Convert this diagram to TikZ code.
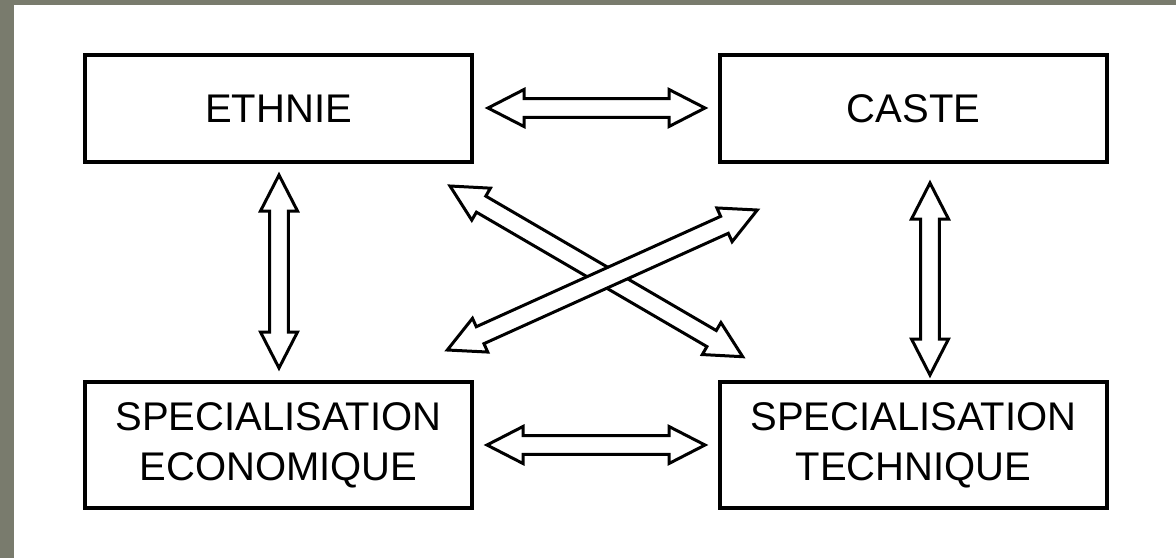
\documentclass[tikz,border=0pt]{standalone}
\usepackage{fontspec}
\setmainfont{Liberation Sans}
\usetikzlibrary{calc}
\definecolor{framegray}{RGB}{121,123,109}
\newcommand{\arrHL}{36pt}
\newcommand{\arrHW}{18.5pt}
\newcommand{\arrSW}{9.3pt}
\newcommand{\blockarrow}[2]{%
 \draw[blockarr] (#1)
 -- ($(#1)!\arrHL!(#2)!\arrHW!90:(#2)$)
 -- ($(#1)!\arrHL!(#2)!\arrSW!90:(#2)$)
 -- ($(#2)!\arrHL!(#1)!\arrSW!-90:(#1)$)
 -- ($(#2)!\arrHL!(#1)!\arrHW!-90:(#1)$)
 -- (#2)
 -- ($(#2)!\arrHL!(#1)!\arrHW!90:(#1)$)
 -- ($(#2)!\arrHL!(#1)!\arrSW!90:(#1)$)
 -- ($(#1)!\arrHL!(#2)!\arrSW!-90:(#2)$)
 -- ($(#1)!\arrHL!(#2)!\arrHW!-90:(#2)$)
 -- cycle;}
\tikzset{
  box/.style={draw=black, line width=3.4pt, fill=white, inner sep=0pt,
    minimum width=387pt, align=center, text=black,
    font=\fontsize{40}{50}\selectfont},
  topbox/.style={box, minimum height=107pt},
  botbox/.style={box, minimum height=126pt},
  blockarr/.style={draw=black, fill=white, line width=3pt, line join=miter}
}
\begin{document}
\begin{tikzpicture}[x=1pt, y=-1pt]
\useasboundingbox (0,0) rectangle (1176,558);
\fill[white] (0,0) rectangle (1176,558);
\fill[framegray] (0,0) rectangle (1176,5);
\fill[framegray] (0,0) rectangle (14,558);

\node[topbox] (ethnie) at (278.5,108.5) {ETHNIE};
\node[topbox] (caste) at (913.5,108.5) {CASTE};
\node[botbox] (speco) at (278.5,445) {SPECIALISATION\\ECONOMIQUE};
\node[botbox] (stech) at (913.5,445) {SPECIALISATION\\TECHNIQUE};

\coordinate (ecA) at (488,108);
\coordinate (ecB) at (705,108);
\coordinate (stA) at (487,445);
\coordinate (stB) at (705,445);
\coordinate (esA) at (279,175);
\coordinate (esB) at (279,368);
\coordinate (ctA) at (930,183);
\coordinate (ctB) at (930,375);
\coordinate (dgA) at (450,186);
\coordinate (dgB) at (742.7,356.7);
\coordinate (ugA) at (447.3,350);
\coordinate (ugB) at (757.3,210);

\blockarrow{ecA}{ecB}
\blockarrow{stA}{stB}
\blockarrow{esA}{esB}
\blockarrow{ctA}{ctB}
\blockarrow{dgA}{dgB}
\blockarrow{ugA}{ugB}
\end{tikzpicture}
\end{document}
